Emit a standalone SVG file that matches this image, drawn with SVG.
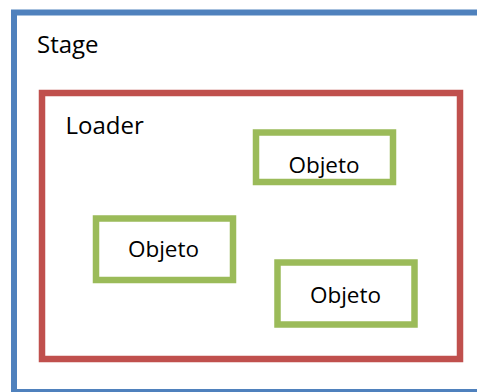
<svg xmlns="http://www.w3.org/2000/svg" width="477" height="392" viewBox="0 0 477 392">
  <style>
    .frame { fill: none; }
    .stage { stroke: #4F81BD; stroke-width: 6; }
    .loader { stroke: #C0504D; stroke-width: 6.5; }
    .obj rect { fill: #FFFFFF; stroke: #9BBB59; stroke-width: 6.5; }
    text { font-family: "Open Sans", "Noto Sans", "DejaVu Sans", sans-serif; fill: #000000; }
    .title { font-size: 24px; }
    .obj text { font-size: 22.5px; text-anchor: middle; }
  </style>
  <rect width="477" height="392" fill="#FFFFFF"/>

  <!-- Stage container -->
  <g id="stage">
    <rect class="frame stage" x="14" y="12.5" width="480" height="379.5"/>
    <text class="title" x="37" y="52.5">Stage</text>
  </g>

  <!-- Loader inside the stage -->
  <g id="loader">
    <rect class="frame loader" x="42" y="93" width="418" height="266"/>
    <text class="title" x="65.5" y="133.5">Loader</text>
  </g>

  <!-- Objects held by the loader -->
  <g id="objeto-1" class="obj">
    <rect x="256" y="132.5" width="137" height="49.5"/>
    <text x="324" y="172.5">Objeto</text>
  </g>
  <g id="objeto-2" class="obj">
    <rect x="96" y="218.5" width="137" height="61.5"/>
    <text x="163.5" y="257">Objeto</text>
  </g>
  <g id="objeto-3" class="obj">
    <rect x="277.5" y="262.5" width="137" height="62"/>
    <text x="345.5" y="302.5">Objeto</text>
  </g>

  <g id="connectors"/>
</svg>
